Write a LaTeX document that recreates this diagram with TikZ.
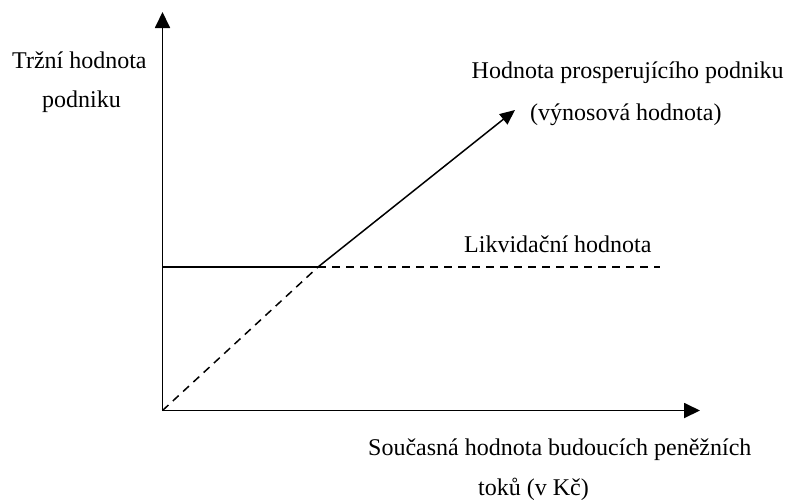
\documentclass[tikz,border=0pt]{standalone}
\usepackage{fontspec}
\setmainfont{Liberation Serif}
\usetikzlibrary{arrows.meta}
\begin{document}
\begin{tikzpicture}[x=1pt,y=-1pt,
  axis/.style={line width=1.8pt,-{Triangle[length=16pt,width=15pt]}},
  curve/.style={line width=1.5pt},
  dashline/.style={line width=1.5pt,dash pattern=on 8pt off 6pt},
  valarrow/.style={line width=1.5pt,-{Triangle[length=15pt,width=13pt]}},
  lbl/.style={inner sep=0pt,anchor=base west,font=\fontsize{24}{28}\selectfont}]
\useasboundingbox (0,0) rectangle (786,499);
\coordinate (O) at (162.5,410.5);
\coordinate (Ytop) at (162.5,12);
\coordinate (Xend) at (700,410.5);
\coordinate (L0) at (162.5,267);
\coordinate (K) at (318,267);
\coordinate (Lend) at (660,267);
\coordinate (P) at (515,110);
% axes
\draw[axis] (O) -- (Ytop);
\draw[axis] (O) -- (Xend);
% liquidation value
\draw[curve] (L0) -- (K);
\draw[dashline] (K) -- (Lend);
% going concern value
\draw[dashline] (O) -- (K);
\draw[valarrow] (K) -- (P);
% labels
\node[lbl] (ylab1) at (12,68) {Tržní hodnota};
\node[lbl] (ylab2) at (42,107) {podniku};
\node[lbl] (plab1) at (471.5,78) {Hodnota prosperujícího podniku};
\node[lbl] (plab2) at (530,120) {(výnosová hodnota)};
\node[lbl] (llab) at (464,252) {Likvidační hodnota};
\node[lbl] (xlab1) at (368,455) {Současná hodnota budoucích peněžních};
\node[lbl] (xlab2) at (478,495) {toků (v Kč)};
\end{tikzpicture}
\end{document}
